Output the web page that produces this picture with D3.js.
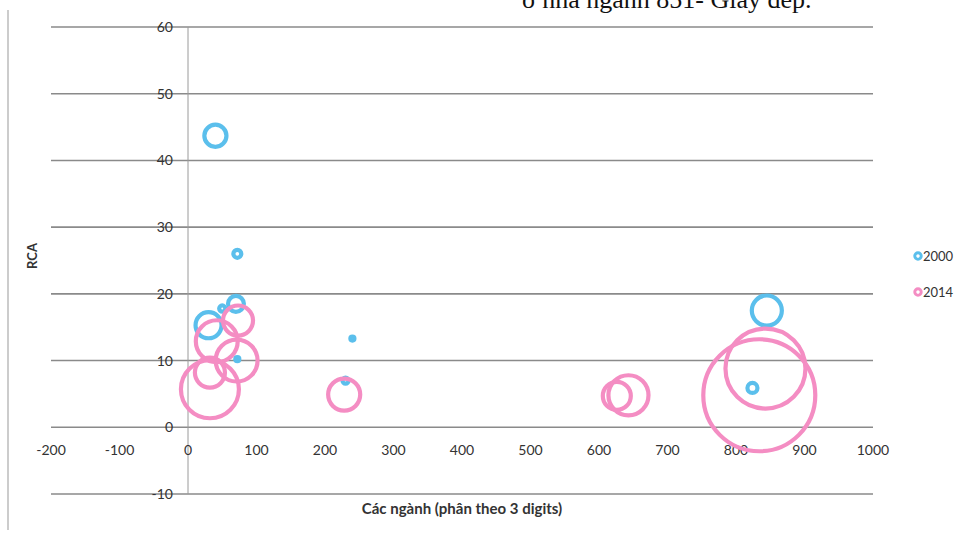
<!DOCTYPE html>
<html>
<head>
<meta charset="utf-8">
<script src="https://cdn.jsdelivr.net/npm/d3@7"></script>
<style>
  body { margin: 0; background: #fff; }
  svg { display: block; }
</style>
</head>
<body>
<svg id="chart" width="968" height="538"></svg>
<script>
// dữ liệu
var years = ["2000", "2014"];
var x2000 = [40, 72, 70, 50, 30, 72, 240, 230, 845, 824];
var y2000 = [43.7, 26, 18.5, 17.8, 15.3, 10.2, 13.3, 7, 17.5, 5.9];
var s2000 = [3.9, 0.5, 2.0, 0.3, 5.4, 0.13, 0.13, 0.3, 7.2, 0.8];
var x2014 = [73, 42, 71, 32, 32, 228, 626, 643, 843, 834];
var y2014 = [16, 12.9, 10, 8.2, 5.7, 4.9, 4.7, 4.8, 8.8, 4.8];
var s2014 = [7.2, 14, 14, 7.2, 26.8, 8.2, 6.25, 12.8, 51, 100];
var xTicks = [-200, -100, 0, 100, 200, 300, 400, 500, 600, 700, 800, 900, 1000];
var yTicks = [-10, 0, 10, 20, 30, 40, 50, 60];

var colors = ["#5bbfec", "#f48dc3"];

var svg = d3.select("#chart");

var x = d3.scaleLinear().domain([-200, 1000]).range([51, 873]);
var y = d3.scaleLinear().domain([-10, 60]).range([494, 27]);
var r = d3.scaleSqrt().domain([0, 100]).range([0, 56]);

// dòng chữ bị cắt ở đầu trang
svg.append("text")
  .attr("x", 522).attr("y", 8)
  .style("font-family", "'Liberation Serif', 'Times New Roman', serif")
  .style("font-size", "26px")
  .style("fill", "#111")
  .text("ở nhà ngành 851- Giày dép.");

// viền trái của trang
svg.append("line")
  .attr("x1", 8).attr("x2", 8).attr("y1", 10).attr("y2", 530)
  .style("stroke", "#999").style("stroke-width", 1);

// lưới ngang
svg.append("g")
  .selectAll("line")
  .data(yTicks)
  .enter()
  .append("line")
  .attr("x1", x(-200)).attr("x2", x(1000))
  .attr("y1", function (d) { return y(d); })
  .attr("y2", function (d) { return y(d); })
  .style("stroke", "#8a8a8a")
  .style("stroke-width", 1.6);

// trục tung tại x = 0
svg.append("line")
  .attr("x1", x(0)).attr("x2", x(0))
  .attr("y1", y(60)).attr("y2", y(-10))
  .style("stroke", "#9a9a9a").style("stroke-width", 1);

var labelFont = "Lato, 'Liberation Sans', sans-serif";

// nhãn trục tung
svg.append("g")
  .selectAll("text")
  .data(yTicks)
  .enter()
  .append("text")
  .attr("x", 173)
  .attr("y", function (d) { return y(d); })
  .attr("dy", "0.36em")
  .attr("text-anchor", "end")
  .style("font-family", labelFont)
  .style("font-size", "14px")
  .style("fill", "#333")
  .text(function (d) { return d; });

// nhãn trục hoành
svg.append("g")
  .selectAll("text")
  .data(xTicks)
  .enter()
  .append("text")
  .attr("x", function (d) { return x(d); })
  .attr("y", 450)
  .attr("dy", "0.36em")
  .attr("text-anchor", "middle")
  .style("font-family", labelFont)
  .style("font-size", "14px")
  .style("fill", "#333")
  .text(function (d) { return d; });

// tiêu đề trục
svg.append("text")
  .attr("x", 462).attr("y", 514)
  .attr("text-anchor", "middle")
  .style("font-family", labelFont)
  .style("font-size", "15px")
  .style("font-weight", "bold")
  .style("fill", "#333")
  .text("Các ngành (phân theo 3 digits)");

svg.append("text")
  .attr("transform", "translate(37,256) rotate(-90)")
  .attr("text-anchor", "middle")
  .style("font-family", labelFont)
  .style("font-size", "13px")
  .style("font-weight", "bold")
  .style("fill", "#333")
  .text("RCA");

// bong bóng
var series = [
  { name: years[0], xs: x2000, ys: y2000, ss: s2000 },
  { name: years[1], xs: x2014, ys: y2014, ss: s2014 }
];

series.forEach(function (s, k) {
  var pts = s.xs.map(function (v, i) { return { x: v, y: s.ys[i], size: s.ss[i] }; });
  svg.append("g")
    .selectAll("circle")
    .data(pts)
    .enter()
    .append("circle")
    .attr("cx", function (d) { return x(d.x); })
    .attr("cy", function (d) { return y(d.y); })
    .attr("r", function (d) { return r(d.size); })
    .style("fill", "none")
    .style("stroke", colors[k])
    .style("stroke-width", 4.2);
});

// chú giải
var legend = svg.append("g")
  .selectAll("g")
  .data(years)
  .enter()
  .append("g")
  .attr("transform", function (d, i) { return "translate(918," + (256 + i * 36) + ")"; });

legend.append("circle")
  .attr("r", 3.2)
  .style("fill", "none")
  .style("stroke", function (d, i) { return colors[i]; })
  .style("stroke-width", 3);

legend.append("text")
  .attr("x", 5).attr("dy", "0.36em")
  .style("font-family", labelFont)
  .style("font-size", "13px")
  .style("fill", "#333")
  .text(function (d) { return d; });
</script>
</body>
</html>
